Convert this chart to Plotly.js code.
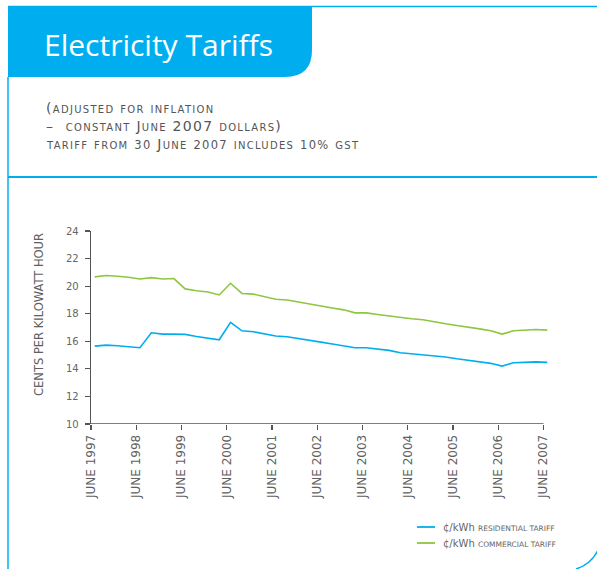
<!DOCTYPE html>
<html><head><meta charset="utf-8">
<script src="https://cdn.plot.ly/plotly-3.0.1.min.js"></script>
<style>html,body{margin:0;padding:0;background:#fff;}#chart{width:597px;height:569px;}</style>
</head><body><div id="chart"></div>
<script>
const quarterDates = [
  "1997-07-01","1997-10-01","1998-01-01","1998-04-01",
  "1998-07-01","1998-10-01","1999-01-01","1999-04-01",
  "1999-07-01","1999-10-01","2000-01-01","2000-04-01",
  "2000-07-01","2000-10-01","2001-01-01","2001-04-01",
  "2001-07-01","2001-10-01","2002-01-01","2002-04-01",
  "2002-07-01","2002-10-01","2003-01-01","2003-04-01",
  "2003-07-01","2003-10-01","2004-01-01","2004-04-01",
  "2004-07-01","2004-10-01","2005-01-01","2005-04-01",
  "2005-07-01","2005-10-01","2006-01-01","2006-04-01",
  "2006-07-01","2006-10-01","2007-01-01","2007-04-01",
  "2007-07-01"
];
const residential = [
  15.65,15.72,15.68,15.63,15.53,16.62,16.52,16.52,16.50,16.35,
  16.25,16.11,17.37,16.76,16.69,16.52,16.38,16.33,16.18,16.06,
  15.94,15.80,15.67,15.53,15.53,15.43,15.34,15.17,15.10,15.05,
  14.96,14.86,14.73,14.61,14.51,14.40,14.20,14.44,14.47,14.51,
  14.47
];
const commercial = [
  20.67,20.77,20.72,20.65,20.52,20.62,20.52,20.55,19.80,19.66,
  19.58,19.36,20.21,19.47,19.42,19.22,19.05,19.00,18.84,18.67,
  18.56,18.42,18.28,18.06,18.06,17.94,17.84,17.70,17.63,17.56,
  17.40,17.27,17.15,17.00,16.90,16.76,16.52,16.76,16.81,16.86,
  16.81
];
const tickDates = ["1997-06-01","1998-06-01","1999-06-01","2000-06-01","2001-06-01","2002-06-01",
  "2003-06-01","2004-06-01","2005-06-01","2006-06-01","2007-06-01"];
const tickLabels = ["JUNE 1997","JUNE 1998","JUNE 1999","JUNE 2000","JUNE 2001","JUNE 2002",
  "JUNE 2003","JUNE 2004","JUNE 2005","JUNE 2006","JUNE 2007"];
const yTicks = [10,12,14,16,18,20,22,24];
const seriesNames = ["¢/kWh residential tariff","¢/kWh commercial tariff"];
const titleText = "Electricity Tariffs";
const subtitleLines = ["(adjusted for inflation","–  constant June 2007 dollars)","tariff from 30 June 2007 includes 10% gst"];
const yTitle = "CENTS PER KILOWATT HOUR";

const BLUE = "#00AEEF", GREEN = "#8DC63F", GREY = "#555555";
const W = 597, H = 569, M = {l:91, r:48, t:231, b:145};
const PW = W - M.l - M.r, PH = H - M.t - M.b;
const px = x => (x - M.l) / PW;
const py = y => (H - M.b - y) / PH;
function path(cmds) {
  return cmds.map(c => {
    const op = c[0]; const nums = c.slice(1);
    const out = [];
    for (let i = 0; i < nums.length; i += 2) out.push(px(nums[i]).toFixed(5) + "," + py(nums[i+1]).toFixed(5));
    return op + " " + out.join(" ");
  }).join(" ");
}
function pline(x0,y0,x1,y1,w){
  return {type:"line", xref:"paper", yref:"paper", x0:px(x0), y0:py(y0), x1:px(x1), y1:py(y1),
    line:{color:BLUE, width:w}, layer:"below"};
}

const traces = [
  {x: quarterDates, y: residential, type:"scatter", mode:"lines", name: seriesNames[0],
   line:{color:BLUE, width:1.6}, hoverinfo:"skip", showlegend:false},
  {x: quarterDates, y: commercial, type:"scatter", mode:"lines", name: seriesNames[1],
   line:{color:GREEN, width:1.6}, hoverinfo:"skip", showlegend:false}
];

const shapes = [
  {type:"path", xref:"paper", yref:"paper", layer:"below",
   path: path([["M",8,6],["L",312,6],["L",312,50],["Q",312,77,285,77],["L",8,77],["Z"]]),
   fillcolor:BLUE, line:{width:0}},
  pline(8,6.5,597,6.5,1.5),
  pline(8,77,8,569,1.5),
  pline(8,177,597,177,2),
  {type:"path", xref:"paper", yref:"paper", layer:"below",
   path: path([["M",576,569],["Q",592,564,599,548]]), line:{color:BLUE, width:1.5}},
  {type:"line", xref:"x", yref:"y", x0:tickDates[0], x1:tickDates[tickDates.length-1], y0:10, y1:10,
   line:{color:GREY, width:1.3}},
  {type:"line", xref:"paper", yref:"paper", x0:px(417), x1:px(435), y0:py(527), y1:py(527), line:{color:BLUE, width:1.8}},
  {type:"line", xref:"paper", yref:"paper", x0:px(417), x1:px(435), y0:py(543), y1:py(543), line:{color:GREEN, width:1.8}}
];

const subFont = {family:"DejaVu Sans, sans-serif", size:14, color:GREY, variant:"small-caps"};
const spaced = t => "<span style='letter-spacing:1.3px'>" + t + "</span>";
const oldStyle = t => t.replace(/(\d+%?)/g, "<span style='font-size:11.5px'>$1</span>");
const annotations = [
  {text:titleText, xref:"paper", yref:"paper", x:px(42), y:py(44), xanchor:"left", yanchor:"middle",
   showarrow:false, font:{family:"Open Sans, sans-serif", size:30, color:"#ffffff"}},
  {text:spaced(subtitleLines[0]), xref:"paper", yref:"paper", x:px(44), y:py(108), xanchor:"left", yanchor:"middle", showarrow:false, font:subFont},
  {text:spaced(subtitleLines[1]), xref:"paper", yref:"paper", x:px(44), y:py(126), xanchor:"left", yanchor:"middle", showarrow:false, font:subFont},
  {text:spaced(oldStyle(subtitleLines[2])), xref:"paper", yref:"paper", x:px(44), y:py(144), xanchor:"left", yanchor:"middle", showarrow:false, font:subFont},
  {text:yTitle, xref:"paper", yref:"paper", x:px(39), y:py(315), xanchor:"center", yanchor:"middle", textangle:-90,
   showarrow:false, font:{family:"DejaVu Sans, sans-serif", size:11.5, color:"#606060"}},
  {text:"¢/kWh <span style='font-size:7.5px'>" + seriesNames[0].replace("¢/kWh ","").toUpperCase() + "</span>",
   xref:"paper", yref:"paper", x:px(441), y:py(527), xanchor:"left", yanchor:"middle", showarrow:false,
   font:{family:"DejaVu Sans, sans-serif", size:10, color:"#666666"}},
  {text:"¢/kWh <span style='font-size:7.5px'>" + seriesNames[1].replace("¢/kWh ","").toUpperCase() + "</span>",
   xref:"paper", yref:"paper", x:px(441), y:py(543), xanchor:"left", yanchor:"middle", showarrow:false,
   font:{family:"DejaVu Sans, sans-serif", size:10, color:"#666666"}}
];

const layout = {
  width:W, height:H, margin:M, paper_bgcolor:"#ffffff", plot_bgcolor:"rgba(0,0,0,0)",
  showlegend:false,
  xaxis:{type:"date", range:["1997-06-01","2007-07-15"], showline:false, showgrid:false, zeroline:false,
    ticks:"outside", ticklen:5, tickwidth:1.2, tickcolor:GREY, tickmode:"array", tickvals:tickDates, ticktext:tickLabels,
    tickangle:-90, tickfont:{family:"DejaVu Sans, sans-serif", size:12, color:"#606060"}, fixedrange:true},
  yaxis:{range:[10,24], showline:true, linecolor:GREY, linewidth:1.3, showgrid:false, zeroline:false,
    ticks:"outside", ticklen:5, tickwidth:1.2, tickcolor:GREY, tickmode:"array", tickvals:yTicks,
    tickfont:{family:"DejaVu Sans, sans-serif", size:10, color:"#666666"}, ticklabelstandoff:4, fixedrange:true},
  shapes:shapes, annotations:annotations
};
Plotly.newPlot("chart", traces, layout, {displayModeBar:false, staticPlot:true});
</script></body></html>
